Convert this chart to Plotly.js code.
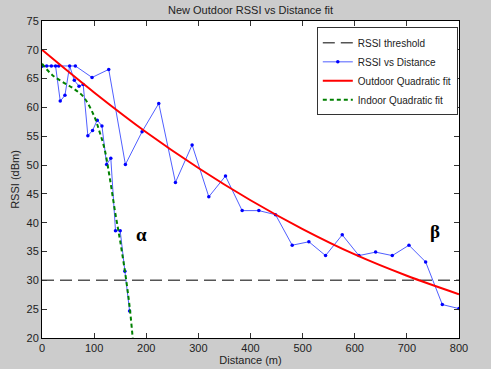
<!DOCTYPE html>
<html>
<head>
<meta charset="utf-8">
<script src="https://cdn.plot.ly/plotly-3.0.1.min.js"></script>
<style>
  html, body { margin: 0; padding: 0; background: #cccccc; }
  #chart { width: 491px; height: 369px; }
</style>
</head>
<body>
<div id="chart"></div>
<script>
// indoor walk (short steps) then outdoor walk (long steps)
const indoorDist = [0, 9, 18, 26, 35, 44, 53, 62, 71, 79, 88, 97, 106, 115, 124, 132, 141, 150, 159, 168];
const indoorRssi = [67.2, 67.2, 67.2, 67.2, 61.1, 62.1, 67.2, 64.7, 63.7, 64.0, 55.1, 56.0, 57.8, 56.8, 50.1, 51.2, 38.6, 38.6, 31.6, 24.7];

const outdoorDist = [0, 32, 64, 96, 128, 160, 192, 224, 256, 288, 320, 352, 384, 416, 448, 480, 512, 544, 576, 608, 640, 672, 704, 736, 768, 800];
const outdoorRssi = [67.2, 67.2, 67.2, 65.2, 66.6, 50.1, 55.8, 60.7, 47.0, 53.5, 44.5, 48.1, 42.1, 42.1, 41.4, 36.1, 36.7, 34.3, 37.9, 34.3, 34.9, 34.3, 36.1, 33.2, 25.8, 25.1];

const outFitDist = [0, 100, 200, 300, 400, 500, 600, 700, 800];
const outFitRssi = [70.0, 62.6, 55.7, 49.5, 43.9, 38.9, 34.5, 30.8, 27.6];

const inFitDist = [0, 20, 40, 60, 80, 100, 110, 120, 130, 140, 150, 160, 168, 174];
const inFitRssi = [67.6, 65.6, 64.4, 63.3, 61.8, 58.5, 55.9, 52.8, 47.8, 42.0, 36.8, 31.0, 25.5, 20.0];

const thresholdDist = [0, 800];
const thresholdRssi = [30, 30];

const xTicks = [0, 100, 200, 300, 400, 500, 600, 700, 800];
const yTicks = [20, 25, 30, 35, 40, 45, 50, 55, 60, 65, 70, 75];

// one series, null breaks the line between the two walks
const measDist = indoorDist.concat([null], outdoorDist);
const measRssi = indoorRssi.concat([null], outdoorRssi);

const font = 'Arial, "Liberation Sans", sans-serif';

const traces = [
  {
    x: thresholdDist, y: thresholdRssi, mode: 'lines', name: 'RSSI threshold',
    line: { color: '#555555', width: 1.5, dash: '12px,6px' },
  },
  {
    x: measDist, y: measRssi, mode: 'lines+markers', name: 'RSSI vs Distance',
    connectgaps: false,
    line: { color: 'rgb(80,95,255)', width: 1 },
    marker: { color: '#0000ff', size: 3.5 },
  },
  {
    x: outFitDist, y: outFitRssi, mode: 'lines', name: 'Outdoor Quadratic fit',
    line: { color: '#ff0000', width: 2, shape: 'spline' },
  },
  {
    x: inFitDist, y: inFitRssi, mode: 'lines', name: 'Indoor Quadratic fit',
    line: { color: '#008000', width: 2, dash: '4px,3px', shape: 'spline' },
  },
];

const axisBase = {
  showline: true, linecolor: '#000000', linewidth: 1, mirror: 'ticks',
  ticks: 'inside', ticklen: 5, tickcolor: '#333333',
  showgrid: false, zeroline: false,
  tickfont: { family: font, size: 11, color: '#222222' },
};

const layout = {
  width: 491, height: 369,
  margin: { l: 42, r: 32, t: 21, b: 31 },
  paper_bgcolor: '#cccccc',
  plot_bgcolor: '#ffffff',
  font: { family: font, size: 11, color: '#222222' },
  title: {
    text: 'New Outdoor RSSI vs Distance fit',
    font: { family: font, size: 11, color: '#222222' },
    x: 0.5, xref: 'paper', y: 0.972, yref: 'container', yanchor: 'middle',
  },
  xaxis: Object.assign({}, axisBase, {
    range: [0, 800], tickvals: xTicks, ticktext: xTicks.map(String),
    title: { text: 'Distance (m)', font: { family: font, size: 11, color: '#222222' }, standoff: 2 },
  }),
  yaxis: Object.assign({}, axisBase, {
    range: [20, 75], tickvals: yTicks, ticktext: yTicks.map(String),
    title: { text: 'RSSI (dBm)', font: { family: font, size: 11, color: '#222222' }, standoff: 4 },
  }),
  showlegend: true,
  legend: {
    x: 0.659, y: 0.98, xanchor: 'left', yanchor: 'top',
    bgcolor: '#ffffff', bordercolor: '#333333', borderwidth: 1,
    font: { family: font, size: 10, color: '#222222' },
    tracegroupgap: 0, itemwidth: 30,
  },
  annotations: [
    { x: 190, y: 38, xref: 'x', yref: 'y', text: '<b>α</b>', showarrow: false,
      font: { family: '"Liberation Serif", "DejaVu Serif", serif', size: 19, color: '#000000' } },
    { x: 753, y: 38.5, xref: 'x', yref: 'y', text: '<b>β</b>', showarrow: false,
      font: { family: '"Liberation Serif", "DejaVu Serif", serif', size: 19, color: '#000000' } },
  ],
};

Plotly.newPlot('chart', traces, layout, { displayModeBar: false, staticPlot: true });
</script>
</body>
</html>
